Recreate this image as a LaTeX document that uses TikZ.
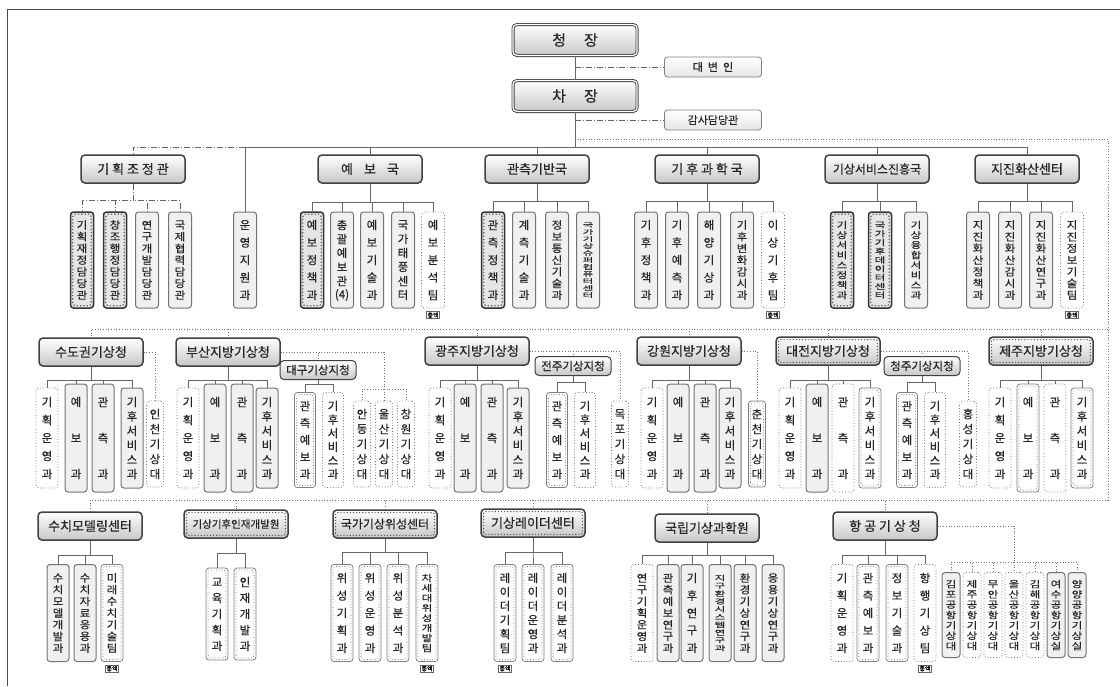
\documentclass[tikz,border=0pt]{standalone}
\usepackage{fontspec}
\usepackage{graphicx}
\setmainfont{Noto Sans CJK KR}[FakeBold=0.4]
\usetikzlibrary{positioning}

% stack the letters of a name from top to bottom
\ExplSyntaxOn
\seq_new:N \l__vt_seq
\fp_new:N \l__vt_fp
\cs_new_protected:Npn \vt_stack:nn #1#2
  {
    \seq_clear:N \l__vt_seq
    \tl_map_inline:nn {#2} { \seq_put_right:Nn \l__vt_seq {##1} }
    \fp_set:Nn \l__vt_fp { (#1) / ( \seq_count:N \l__vt_seq - 1 ) }
    \fontsize{11.5}{12}\selectfont
    \vbox
      {
        \offinterlineskip
        \seq_map_inline:Nn \l__vt_seq
          {
            \hbox to 0pt
              {
                \hss
                \vbox to \fp_eval:n { round(\l__vt_fp, 2) } pt
                  {
                    \vss
                    \hbox{ \scalebox{1}[\fp_eval:n { round( min(1, 0.9 * \l__vt_fp / 11.5), 3) }]{##1} }
                    \vss
                  }
                \hss
              }
          }
      }
  }
\cs_generate_variant:Nn \vt_stack:nn { no }
\NewDocumentCommand \vt { O{70} m } { \vt_stack:no {#1} {#2} }
\ExplSyntaxOff

\tikzset{
  tree/.style={draw=black!60, line width=0.8pt},
  dotln/.style={draw=black!55, line width=0.7pt, dotted},
  dashdot/.style={draw=black!60, line width=0.8pt, dash pattern=on 6pt off 2pt on 1pt off 2pt},
  hd/.style={rectangle, rounded corners=4pt, draw=black!75, line width=1.5pt,
    top color=white, bottom color=black!22, minimum width=104, minimum height=28,
    inner sep=1pt, text=black!85, font=\fontsize{13}{13}\selectfont},
  hdkey/.style={hd, path picture={\draw[black!65, line width=1.1pt, dotted, rounded corners=2pt]
    ([shift={(2.6pt,2.6pt)}]path picture bounding box.south west) rectangle
    ([shift={(-2.6pt,-2.6pt)}]path picture bounding box.north east);}},
  hdsm/.style={hd, line width=1pt, minimum width=76, minimum height=19,
    font=\fontsize{11.5}{11.5}\selectfont},
  topbox/.style={hd, minimum width=124, minimum height=31, line width=0.9pt,
    double=white, double distance=1.2pt, font=\fontsize{15}{15}\selectfont},
  sidebox/.style={rectangle, rounded corners=3pt, draw=black!50, line width=0.8pt,
    top color=white, bottom color=black!10, minimum width=97, minimum height=20,
    inner sep=1pt, text=black!85, font=\fontsize{11}{11}\selectfont},
  col/.style={rectangle, rounded corners=3pt, minimum width=22, minimum height=96,
    inner sep=0pt, text=black!85},
  colunit/.style={col, draw=black!55, line width=1pt, fill=black!6},
  colkey/.style={col, draw=black!80, line width=1.5pt, fill=black!10,
    path picture={\draw[black!60, line width=1.3pt, dotted]
    ([shift={(2.2pt,2.2pt)}]path picture bounding box.south west) rectangle
    ([shift={(-2.2pt,-2.2pt)}]path picture bounding box.north east);}},
  colmid/.style={col, draw=black!50, line width=0.8pt, fill=white,
    path picture={\draw[black!55, line width=0.7pt, dotted]
    ([shift={(2pt,2pt)}]path picture bounding box.south west) rectangle
    ([shift={(-2pt,-2pt)}]path picture bounding box.north east);}},
  colsub/.style={col, draw=black!55, line width=0.8pt, dotted, fill=white},
  tag/.style={draw=black!60, line width=0.5pt, fill=white, inner sep=0.8pt,
    font=\fontsize{6}{6}\selectfont}
}

\begin{document}
\begin{tikzpicture}[x=1pt, y=-1pt]
  \useasboundingbox (0,0) rectangle (1120,686);
  \draw[black!70, line width=0.8pt] (7,686) -- (7,9) -- (1120,9);

  % top
  \node[topbox] (cj) at (575,40) {청\hspace{18pt}장};
  \node[topbox] (ch) at (575,96) {차\hspace{18pt}장};
  \node[sidebox] (db) at (713,67) {대\hspace{5pt}변\hspace{5pt}인};
  \node[sidebox] (gs) at (713,120) {감사담당관};
  \draw[tree] (cj) -- (ch);
  \draw[dashdot] (cj.south |- db.west) -- (db.west);
  \draw[dashdot] (ch.south |- gs.west) -- (gs.west);
  \coordinate (dt) at (575,139);
  \coordinate (bus1) at (575,147);
  \draw[tree] (ch) -- (bus1);

  % row 1
  \node[hd] (h11) at (133,169) {기 획 조 정 관};
  \node[hd] (h12) at (370,169) {예\hspace{11pt}보\hspace{11pt}국};
  \node[hd] (h13) at (537,169) {관측기반국};
  \node[hd] (h14) at (707,169) {기 후 과 학 국};
  \node[hd, font=\fontsize{12}{12}\selectfont] (h15) at (877,169) {기상서비스진흥국};
  \node[hd] (h16) at (1027,169) {지진화산센터};
  \foreach \x/\nm/\sty/\lbl in {82/a1/colkey/기획재정담당관, 115/a2/colkey/창조행정담당관,
      147/a3/colunit/연구개발담당관, 180/a4/colunit/국제협력담당관, 245/a5/colunit/운영지원과,
      312/b1/colkey/예보정책과, 342/b2/colunit/총괄예보관{(4)}, 372/b3/colunit/예보기술과,
      403/b4/colunit/국가태풍센터, 433/b5/colsub/예보분석팀,
      493/c1/colkey/관측정책과, 524/c2/colunit/계측기술과, 557/c3/colunit/정보통신기술과,
      588/c4/colunit/국가기상슈퍼컴퓨터센터,
      646/d1/colunit/기후정책과, 677/d2/colunit/기후예측과, 709/d3/colunit/해양기상과,
      742/d4/colunit/기후변화감시과, 773/d5/colsub/이상기후팀,
      842/e1/colkey/기상서비스정책과, 880/e2/colkey/국가기후데이터센터, 916/e3/colunit/기상융합서비스과,
      978/f1/colunit/지진화산정책과, 1010/f2/colunit/지진화산감시과, 1041/f3/colunit/지진화산연구과,
      1072/f4/colsub/지진정보기술팀}
    \node[\sty, minimum width=23] (\nm) at (\x,260) {\vt{\lbl}};

  \foreach \h in {a5,h12,h13,h14,h15,h16} \draw[tree] (bus1) -| (\h.north);
  \draw[dashdot] (a5.north |- bus1) -| (h11.north);
  \foreach \c in {a1,a2,a3,a4} \draw[dashdot] (h11.south) -- ++(0,17) -| (\c.north);
  \foreach \c in {b1,b2,b3,b4,b5} \draw[tree] (h12.south) -- ++(0,19) -| (\c.north);
  \foreach \c in {c1,c2,c3,c4} \draw[tree] (h13.south) -- ++(0,18) -| (\c.north);
  \foreach \c in {d1,d2,d3,d4,d5} \draw[tree] (h14.south) -- ++(0,18) -| (\c.north);
  \foreach \c in {e1,e2,e3} \draw[tree] (h15.south) -- ++(0,18) -| (\c.north);
  \foreach \c in {f1,f2,f3,f4} \draw[tree] (h16.south) -- ++(0,18) -| (\c.north);

  % regional offices
  \coordinate (rt1) at (1108,139);
  \coordinate (rt2) at (1108,329);
  \coordinate (rt3) at (1108,500);
  \draw[dotln] (dt) -- (rt1) -- (rt3);

  \node[hd] (h21) at (91,352) {수도권기상청};
  \node[hd] (h22) at (228,352) {부산지방기상청};
  \node[hdsm] (h23) at (318,370) {대구기상지청};
  \node[hd] (h24) at (477,351) {광주지방기상청};
  \node[hdsm] (h25) at (573,366) {전주기상지청};
  \node[hd] (h26) at (689,351) {강원지방기상청};
  \node[hdkey] (h27) at (828,351) {대전지방기상청};
  \node[hdsm] (h28) at (922,366) {청주기상지청};
  \node[hdkey] (h29) at (1041,351) {제주지방기상청};
  \foreach \h in {h21,h22,h24,h26,h27,h29} \draw[dotln] (rt2) -| (\h.north);

  \foreach \x/\nm/\sty/\lbl in {47/g1/colsub/기획운영과, 76/g2/colunit/예보과, 103/g3/colunit/관측과,
      132/g4/colunit/기후서비스과,
      188/p1/colsub/기획운영과, 215/p2/colunit/예보과, 242/p3/colunit/관측과, 267/p4/colunit/기후서비스과,
      440/j1/colsub/기획운영과, 465/j2/colunit/예보과, 492/j3/colunit/관측과, 518/j4/colunit/기후서비스과,
      652/t1/colsub/기획운영과, 678/t2/colunit/예보과, 705/t3/colunit/관측과, 730/t4/colunit/기후서비스과,
      790/u1/colsub/기획운영과, 817/u2/colunit/예보과, 843/u3/colsub/관측과, 870/u4/colmid/기후서비스과,
      1000/w1/colsub/기획운영과, 1028/w2/colmid/예보과, 1055/w3/colsub/관측과, 1082/w4/colmid/기후서비스과}
    \node[\sty, minimum height=100] (\nm) at (\x,438) {\vt[72]{\lbl}};
  \foreach \x/\nm/\sty/\lbl in {305/q1/colmid/관측예보과, 333/q2/colsub/기후서비스과,
      557/s1/colmid/관측예보과, 585/s2/colsub/기후서비스과,
      907/v1/colmid/관측예보과, 935/v2/colsub/기후서비스과}
    \node[\sty, minimum width=21, minimum height=95] (\nm) at (\x,440) {\vt[68]{\lbl}};
  \foreach \x/\nm/\sty/\lbl in {155/ic/colsub/인천기상대, 362/ad/colsub/안동기상대, 384/us/colsub/울산기상대,
      406/cw/colsub/창원기상대, 620/mp/colsub/목포기상대, 757/cc/colmid/춘천기상대,
      968/hs/colsub/홍성기상대}
    \node[\sty, minimum width=17, minimum height=86] (\nm) at (\x,444) {\vt[60]{\lbl}};

  \foreach \c in {g1,g2,g3,g4} \draw[tree] (h21.south) -- ++(0,14) -| (\c.north);
  \foreach \c in {p1,p2,p3,p4} \draw[tree] (h22.south) -- ++(0,14) -| (\c.north);
  \foreach \c in {j1,j2,j3,j4} \draw[tree] (h24.south) -- ++(0,15) -| (\c.north);
  \foreach \c in {t1,t2,t3,t4} \draw[tree] (h26.south) -- ++(0,15) -| (\c.north);
  \foreach \c in {u1,u2,u3,u4} \draw[tree] (h27.south) -- ++(0,15) -| (\c.north);
  \foreach \c in {w1,w2,w3,w4} \draw[tree] (h29.south) -- ++(0,15) -| (\c.north);
  \foreach \c in {q1,q2} \draw[tree] (h23.south) -- ++(0,4) -| (\c.north);
  \foreach \c in {s1,s2} \draw[tree] (h25.south) -- ++(0,6) -| (\c.north);
  \foreach \c in {v1,v2} \draw[tree] (h28.south) -- ++(0,6) -| (\c.north);

  \draw[dotln] (h21.east) -| (ic.north);
  \draw[dotln] (h22.east) -| (h23.north);
  \coordinate (ab) at (384,389);
  \draw[dotln] (h22.east) -| (ab);
  \foreach \c in {ad,us,cw} \draw[dotln] (ab) -| (\c.north);
  \draw[dotln] (h24.east) -| (h25.north);
  \draw[dotln] (h24.east) -| (mp.north);
  \draw[dotln] (h26.east) -| (cc.north);
  \draw[dotln] (h27.east) -| (h28.north);
  \draw[dotln] (h27.east) -| (hs.north);

  % affiliated bodies
  \node[hd] (h31) at (90,526) {수치모델링센터};
  \node[hdkey, font=\fontsize{10.5}{10.5}\selectfont] (h32) at (236,524) {기상기후인재개발원};
  \node[hdkey, font=\fontsize{12}{12}\selectfont] (h33) at (385,524) {국가기상위성센터};
  \node[hdkey] (h34) at (533,523) {기상레이더센터};
  \node[hd] (h35) at (707,528) {국립기상과학원};
  \node[hd] (h36) at (885,526) {항 공 기 상 청};
  \foreach \h in {h31,h32,h33,h34,h35,h36} \draw[dotln] (rt3) -| (\h.north);

  \foreach \x/\nm/\sty/\lbl in {58/x1/colunit/수치모델개발과, 85/x2/colunit/수치자료응용과, 112/x3/colmid/미래수치기술팀,
      342/z1/colmid/위성기획과, 370/z2/colmid/위성운영과, 398/z3/colmid/위성분석과, 427/z4/colmid/차세대위성개발팀,
      505/k1/colmid/레이더기획팀, 533/k2/colmid/레이더운영과, 562/k3/colmid/레이더분석과,
      642/m1/colsub/연구기획운영과, 668/m2/colunit/관측예보연구과, 692/m3/colunit/기후연구과,
      720/m4/colunit/지구환경시스템연구과, 745/m5/colunit/환경기상연구과, 773/m6/colunit/응용기상연구과,
      842/n1/colsub/기획운영과, 868/n2/colmid/관측예보과, 897/n3/colmid/정보기술과, 925/n4/colsub/항행기상팀}
    \node[\sty, minimum height=97] (\nm) at (\x,613) {\vt{\lbl}};
  \foreach \x/\nm/\sty/\lbl in {217/y1/colmid/교육기획과, 245/y2/colmid/인재개발과}
    \node[\sty, minimum height=92] (\nm) at (\x,614) {\vt[64]{\lbl}};
  \foreach \x/\nm/\sty/\lbl in {951/o1/colunit/김포공항기상대, 972/o2/colsub/제주공항기상대,
      993/o3/colsub/무안공항기상대, 1014/o4/colsub/울산공항기상대, 1035/o5/colsub/김해공항기상대,
      1056/o6/colunit/여수공항기상실, 1077/o7/colunit/양양공항기상실}
    \node[\sty, minimum width=18, minimum height=85] (\nm) at (\x,615) {\vt[62]{\lbl}};

  \foreach \c in {x1,x2,x3} \draw[tree] (h31.south) -- ++(0,15) -| (\c.north);
  \foreach \c in {y1,y2} \draw[tree] (h32.south) -- ++(0,15) -| (\c.north);
  \foreach \c in {z1,z2,z3,z4} \draw[tree] (h33.south) -- ++(0,14) -| (\c.north);
  \foreach \c in {k1,k2,k3} \draw[tree] (h34.south) -- ++(0,15) -| (\c.north);
  \foreach \c in {m1,m2,m3,m4,m5,m6} \draw[tree] (h35.south) -- ++(0,13) -| (\c.north);
  \foreach \c in {n1,n2,n3,n4} \draw[tree] (h36.south) -- ++(0,15) -| (\c.north);
  \coordinate (apb) at (1014,562);
  \draw[dotln] (h36.east) -| (apb);
  \foreach \c in {o1,o2,o3,o4,o5,o6,o7} \draw[dotln] (apb) -| (\c.north);

  % budget tags
  \foreach \c in {b5,d5,f4,x3,z4,k1,n4} \node[tag, below=3pt of \c] (t\c) {총액};
\end{tikzpicture}
\end{document}
